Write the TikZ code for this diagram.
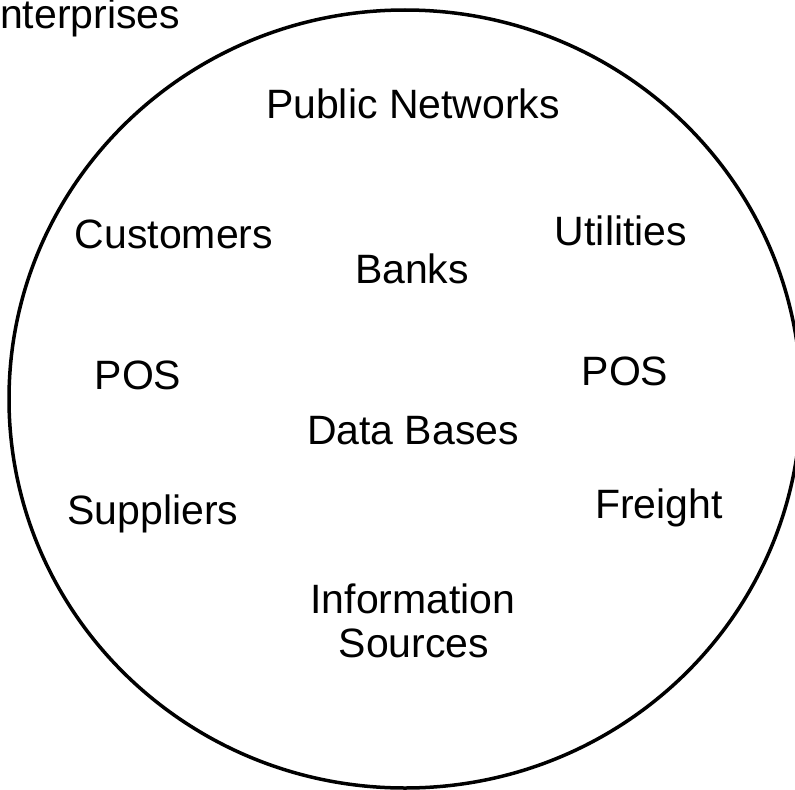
\documentclass[tikz,border=0pt]{standalone}
\usepackage{fontspec}
\setmainfont{Liberation Sans}
\begin{document}
\begin{tikzpicture}[x=1bp,y=-1bp,font=\fontsize{41bp}{49bp}\selectfont,
    lbl/.style={anchor=base,inner sep=0pt}]
    \useasboundingbox (0,0) rectangle (795,790);
    \fill[white] (0,0) rectangle (795,790);
    \draw[line width=3.5bp] (405,399) ellipse [x radius=396,y radius=389];
    \node[lbl,anchor=base west] (ent) at (0,29) {nterprises};
    \node[lbl] (pubnet) at (413,118) {Public Networks};
    \node[lbl] (cust) at (174,248) {Customers};
    \node[lbl] (util) at (621,245) {Utilities};
    \node[lbl] (banks) at (412,283) {Banks};
    \node[lbl] (posl) at (138,389) {POS};
    \node[lbl] (posr) at (625,385) {POS};
    \node[lbl] (db) at (413,444) {Data Bases};
    \node[lbl] (supp) at (153,524) {Suppliers};
    \node[lbl] (freight) at (659,518) {Freight};
    \node[lbl] (info) at (413,613) {Information};
    \node[lbl] (src) at (414,657) {Sources};
\end{tikzpicture}
\end{document}
